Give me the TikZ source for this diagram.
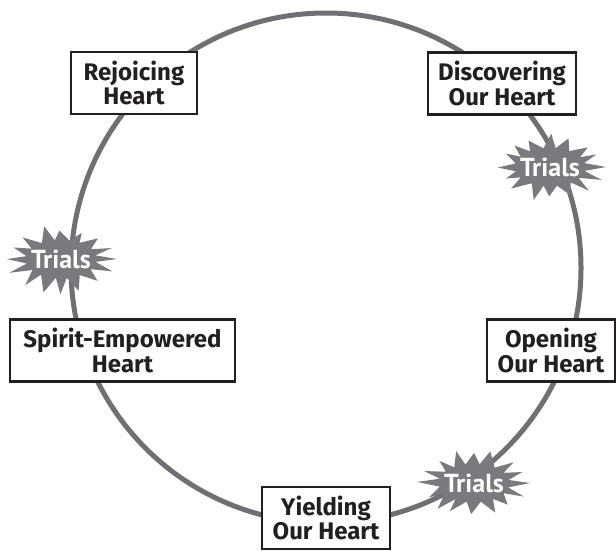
\documentclass[tikz,border=0pt]{standalone}
\usepackage{fontspec}
\setmainfont{PT Sans}
\newfontfamily\boxfont{Fira Sans}
\definecolor{ringgray}{RGB}{112,112,116}
\definecolor{stargray}{RGB}{122,122,126}
\definecolor{inkblack}{RGB}{35,31,32}

\tikzset{every picture/.style={line width=0.75pt}}
\tikzset{
  heartbox/.style={draw=inkblack, fill=white, line width=1.75pt, align=center, text=inkblack,
    font=\boxfont\bfseries\fontsize{18}{18.5}\selectfont, minimum height=46.5pt, inner sep=2pt},
  trialtext/.style={text=white, font=\bfseries\fontsize{19.5}{19.5}\selectfont, inner sep=0pt}
}

\begin{document}
\begin{tikzpicture}[x=0.75pt,y=0.75pt,yscale=-1,xscale=1]
\useasboundingbox (0,0) rectangle (616,550);

%Shape: Circle [id:ring]
\draw [color=ringgray, line width=3.75pt] (326,268) circle [radius=255];

%Shape: Starbursts with Trials
\foreach \cx/\cy/\sd/\nm in {550/167/7/trialsA, 61/259/23/trialsB, 474/483/41/trialsC}{
  \pgfmathsetseed{\sd}
  \fill [stargray, shift={(\cx,\cy)}] (0:56 and 34)
    \foreach \k in {1,...,31}{ -- ({\k*11.25+3*rand}:{ifthenelse(isodd(\k),35,52+5*rand)} and {ifthenelse(isodd(\k),19,32+4*rand)}) } -- cycle;
  \node [trialtext] (\nm) at (\cx,\cy) {Trials};
}

% Text Node
\draw (134,83) node [heartbox, minimum width=94.5pt] (rejoicing) {Rejoicing\\Heart};
% Text Node
\draw (502,83.5) node [heartbox, minimum width=111pt] (discovering) {Discovering\\Our Heart};
% Text Node
\draw (122.5,350.5) node [heartbox, minimum width=168.5pt] (spirit) {Spirit-Empowered\\Heart};
% Text Node
\draw (551,350.5) node [heartbox, minimum width=96pt] (opening) {Opening\\Our Heart};
% Text Node
\draw (326,518) node [heartbox, minimum width=96pt] (yielding) {Yielding\\Our Heart};

\end{tikzpicture}
\end{document}
